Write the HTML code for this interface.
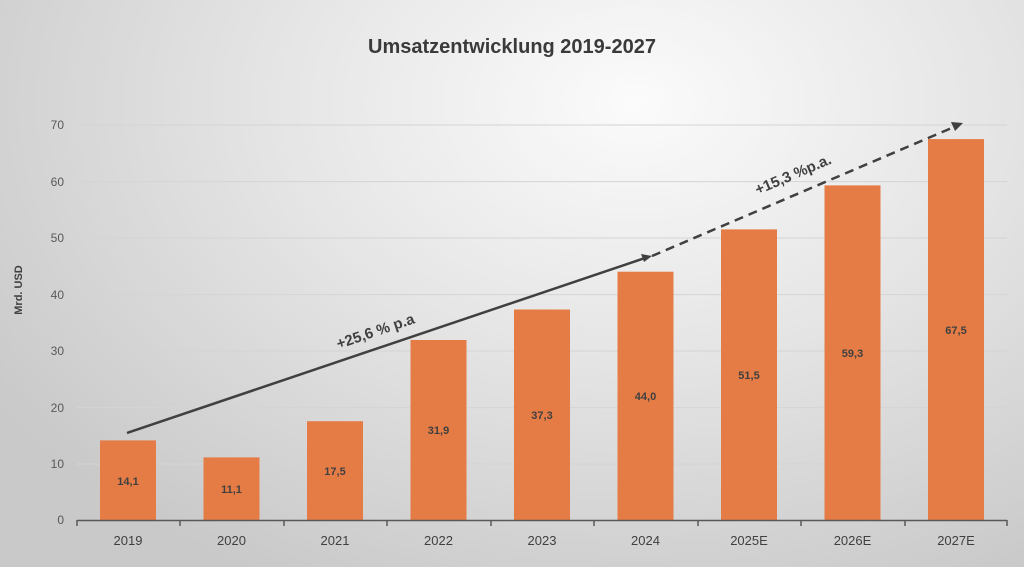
<!DOCTYPE html>
<html style="margin:0;width:1024px;height:567px;overflow:hidden;background:radial-gradient(ellipse 75% 95% at 62% 18%,#fbfbfb 0%,#e6e6e6 45%,#c9c9c9 100%);"><head><style>
body{margin:0;width:1024px;height:567px;overflow:hidden;font-family:"Liberation Sans",sans-serif;background:transparent;}
svg{display:block}
</style></head><body>
<svg width="1024" height="567" xmlns="http://www.w3.org/2000/svg" font-family="Liberation Sans, sans-serif">
<text x="512" y="53" text-anchor="middle" font-size="20" font-weight="bold" fill="#3a3a3a">Umsatzentwicklung 2019-2027</text>
<g stroke="#d4d4d4" stroke-width="1">
<line x1="77" x2="1007" y1="125" y2="125"/><line x1="77" x2="1007" y1="181.6" y2="181.6"/>
<line x1="77" x2="1007" y1="238" y2="238"/><line x1="77" x2="1007" y1="294.6" y2="294.6"/>
<line x1="77" x2="1007" y1="351" y2="351"/><line x1="77" x2="1007" y1="407.6" y2="407.6"/>
<line x1="77" x2="1007" y1="464" y2="464"/>
</g>
<g font-size="12" fill="#595959" text-anchor="end">
<text x="64" y="129">70</text><text x="64" y="186">60</text><text x="64" y="242">50</text>
<text x="64" y="299">40</text><text x="64" y="355">30</text><text x="64" y="412">20</text>
<text x="64" y="468">10</text><text x="64" y="524">0</text>
</g>
<text transform="translate(22,290) rotate(-90)" text-anchor="middle" font-size="11" font-weight="bold" fill="#404040">Mrd. USD</text>
<g fill="#e67c45">
<rect x="100" y="440.4" width="56" height="79.6"/>
<rect x="203.5" y="457.4" width="56" height="62.6"/>
<rect x="307" y="421.2" width="56" height="98.8"/>
<rect x="410.5" y="340" width="56" height="180"/>
<rect x="514" y="309.5" width="56" height="210.5"/>
<rect x="617.5" y="271.7" width="56" height="248.3"/>
<rect x="721" y="229.4" width="56" height="290.6"/>
<rect x="824.5" y="185.4" width="56" height="334.6"/>
<rect x="928" y="139.1" width="56" height="380.9"/>
</g>
<g stroke="#595959" stroke-width="1.5">
<line x1="77" x2="1007" y1="520.5" y2="520.5"/>
<line x1="77" x2="77" y1="520" y2="526"/><line x1="180" x2="180" y1="520" y2="526"/>
<line x1="284" x2="284" y1="520" y2="526"/><line x1="387" x2="387" y1="520" y2="526"/>
<line x1="491" x2="491" y1="520" y2="526"/><line x1="594" x2="594" y1="520" y2="526"/>
<line x1="698" x2="698" y1="520" y2="526"/><line x1="801" x2="801" y1="520" y2="526"/>
<line x1="905" x2="905" y1="520" y2="526"/><line x1="1007" x2="1007" y1="520" y2="526"/>
</g>
<g font-size="13" fill="#404040" text-anchor="middle">
<text x="128" y="545">2019</text><text x="231.5" y="545">2020</text><text x="335" y="545">2021</text>
<text x="438.5" y="545">2022</text><text x="542" y="545">2023</text><text x="645.5" y="545">2024</text>
<text x="749" y="545">2025E</text><text x="852.5" y="545">2026E</text><text x="956" y="545">2027E</text>
</g>
<g font-size="11" font-weight="bold" fill="#404040" text-anchor="middle">
<text x="128" y="485">14,1</text><text x="231.5" y="493">11,1</text><text x="335" y="475">17,5</text>
<text x="438.5" y="434">31,9</text><text x="542" y="419">37,3</text><text x="645.5" y="400">44,0</text>
<text x="749" y="379">51,5</text><text x="852.5" y="357">59,3</text><text x="956" y="334">67,5</text>
</g>
<line x1="127" y1="433" x2="645" y2="258" stroke="#404040" stroke-width="2.5"/>
<polygon points="652,256 641,254 644,262" fill="#404040"/>
<line x1="652" y1="256" x2="954" y2="127" stroke="#404040" stroke-width="2.5" stroke-dasharray="9,6"/>
<polygon points="963,123 951,122 955,131" fill="#404040"/>
<text transform="translate(377,336) rotate(-18.7)" text-anchor="middle" font-size="15" font-weight="bold" fill="#404040">+25,6 % p.a</text>
<text transform="translate(795,179) rotate(-23)" text-anchor="middle" font-size="15" font-weight="bold" fill="#404040">+15,3 %p.a.</text>
</svg>
</body></html>
